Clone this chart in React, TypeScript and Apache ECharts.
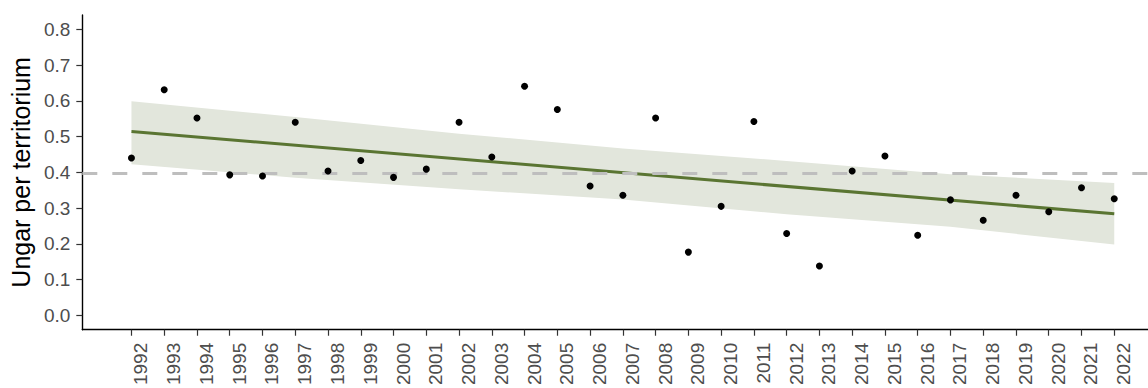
import React, { useEffect, useRef } from "react";
import * as echarts from "echarts";

const years = [
  1992, 1993, 1994, 1995, 1996, 1997, 1998, 1999, 2000, 2001, 2002,
  2003, 2004, 2005, 2006, 2007, 2008, 2009, 2010, 2011, 2012, 2013,
  2014, 2015, 2016, 2017, 2018, 2019, 2020, 2021, 2022,
];
const values = [
  0.44, 0.631, 0.552, 0.393, 0.39, 0.54, 0.404, 0.433, 0.386, 0.409, 0.54,
  0.443, 0.641, 0.576, 0.362, 0.336, 0.552, 0.177, 0.305, 0.542, 0.229, 0.138,
  0.404, 0.446, 0.224, 0.323, 0.266, 0.336, 0.29, 0.357, 0.326,
];
const trendYears = [1992, 2022];
const trendValues = [0.514, 0.284];
const bandYears = [1992, 1997, 2002, 2007, 2012, 2017, 2022];
const bandLower = [0.423, 0.385, 0.353, 0.324, 0.283, 0.248, 0.198];
const bandUpper = [0.599, 0.555, 0.508, 0.467, 0.432, 0.395, 0.37];
const referenceLevel = 0.397;
const yTicks = [0, 0.1, 0.2, 0.3, 0.4, 0.5, 0.6, 0.7, 0.8];
const yTitle = "Ungar per territorium";

const FONT = "'Liberation Sans', Arial, sans-serif";
const X_MIN = 1990.5;
const X_MAX = 2023.03;

export default function App() {
  const ref = useRef<HTMLDivElement>(null);

  useEffect(() => {
    document.body.style.margin = "0";
    if (!ref.current) return;
    const chart = echarts.init(ref.current, null, { renderer: "svg" });

    const bandData = bandYears.map((y, i) => [y, bandLower[i], bandUpper[i]]);

    chart.setOption({
      animation: false,
      grid: { left: 79, right: 0, top: 15, bottom: 55.3, containLabel: false },
      xAxis: {
        type: "value",
        min: X_MIN,
        max: X_MAX,
        splitLine: { show: false },
        axisLine: { show: true, onZero: false, lineStyle: { color: "#000", width: 1.4 } },
        axisTick: {
          show: true,
          customValues: years,
          length: 6,
          lineStyle: { color: "#333", width: 1.2 },
        },
        axisLabel: {
          customValues: years,
          rotate: 90,
          align: "right",
          verticalAlign: "top",
          margin: 13,
          fontSize: 19,
          fontFamily: FONT,
          color: "#4D4D4D",
          formatter: (v: number) => String(Math.round(v)),
        },
      },
      yAxis: {
        type: "value",
        min: -0.04,
        max: 0.84,
        name: yTitle,
        nameLocation: "middle",
        nameRotate: 90,
        nameGap: 44,
        nameTextStyle: { fontSize: 25, fontFamily: FONT, color: "#000" },
        splitLine: { show: false },
        axisLine: { show: true, onZero: false, lineStyle: { color: "#000", width: 1.4 } },
        axisTick: {
          show: true,
          customValues: yTicks,
          length: 6,
          lineStyle: { color: "#333", width: 1.2 },
        },
        axisLabel: {
          customValues: yTicks,
          margin: 12,
          fontSize: 19,
          fontFamily: FONT,
          color: "#4D4D4D",
          formatter: (v: number) => v.toFixed(1),
        },
      },
      series: [
        {
          type: "custom",
          name: "band",
          silent: true,
          z: 1,
          data: bandData,
          encode: { x: 0, y: [1, 2] },
          renderItem: (params: any, api: any) => {
            if (params.dataIndex !== 0) return null;
            const top = bandData.map((d) => api.coord([d[0], d[2]]));
            const bottom = bandData.map((d) => api.coord([d[0], d[1]])).reverse();
            return {
              type: "polygon",
              shape: { points: top.concat(bottom) },
              style: { fill: "#E2E6DC" },
            };
          },
        },
        {
          type: "line",
          name: "trend",
          silent: true,
          z: 2,
          symbol: "none",
          data: trendYears.map((y, i) => [y, trendValues[i]]),
          lineStyle: { color: "#5A7532", width: 3 },
        },
        {
          type: "line",
          name: "reference",
          silent: true,
          z: 3,
          symbol: "none",
          data: [
            [X_MIN, referenceLevel],
            [X_MAX, referenceLevel],
          ],
          lineStyle: { color: "#BEBEBE", width: 3, type: [15, 15] },
        },
        {
          type: "scatter",
          name: "values",
          silent: true,
          z: 4,
          symbol: "circle",
          symbolSize: 7,
          itemStyle: { color: "#000", opacity: 1 },
          data: years.map((y, i) => [y, values[i]]),
        },
      ],
    });

    return () => chart.dispose();
  }, []);

  return <div ref={ref} style={{ width: 1148, height: 388 }} />;
}
